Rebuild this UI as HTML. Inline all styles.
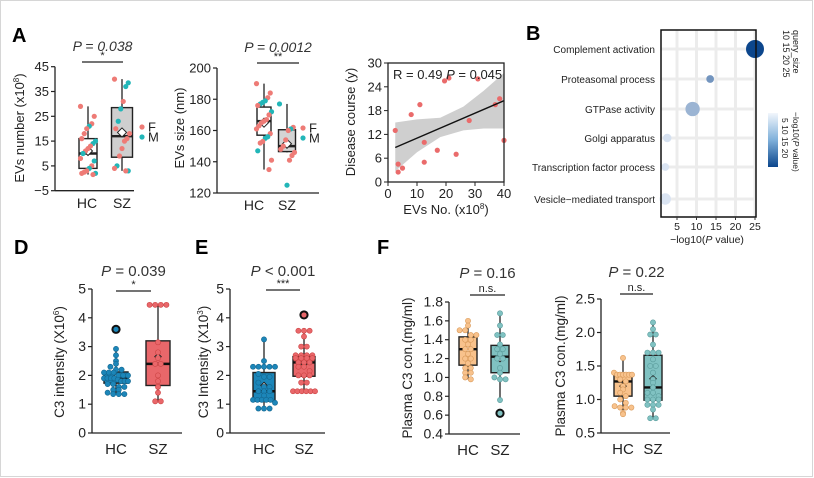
<!DOCTYPE html>
<html><head><meta charset="utf-8">
<style>
html,body{margin:0;padding:0;background:#fff;}
svg{display:block;font-family:"Liberation Sans",Arial,sans-serif;}
</style></head>
<body>
<svg id="fig" width="814" height="478" viewBox="0 0 814 478" xmlns="http://www.w3.org/2000/svg">
<rect x="0.5" y="0.5" width="812" height="476" fill="#fff" stroke="#d6d6d6"/>
<text x="12" y="42" font-size="20" font-weight="bold">A</text>
<text x="526" y="40" font-size="20" font-weight="bold">B</text>
<text x="14" y="254" font-size="20" font-weight="bold">D</text>
<text x="195" y="254" font-size="20" font-weight="bold">E</text>
<text x="377" y="254" font-size="20" font-weight="bold">F</text>
</svg>
<script>
// ===== Data =====
const a1HC=[29,25,22,21,20,18,16,15,14,13,12,11,10,8,7,5,4,3,2.5,2,2,1.5];
const a1HCsex=['F','F','F','M','F','F','F','M','M','F','F','F','M','F','M','F','M','F','F','F','M','F'];
const a1SZ=[40,38.5,37,31,28,23,20,18,16,15,12,9,5,4,3,3];
const a1SZsex=['F','M','M','F','M','M','F','F','F','F','F','F','M','F','M','F'];
const a1Stats={HC:[1.5,4,10,16,29,11],SZ:[3,8.5,17,28.5,40,18.5]};
const a1Ticks=[45,35,25,15,5,-5];
const a2HC=[190,184,181,179,178,177,176,172,170,167,166,165,163,161,158,156,155,153,152,147,141,135];
const a2HCsex=['F','F','F','M','M','M','F','M','F','F','F','F','F','F','F','M','M','F','F','M','F','F'];
const a2SZ=[177,162,161,160,154,150,148,146,144,141,125];
const a2SZsex=['M','F','M','F','F','F','F','F','F','F','M'];
const a2Stats={HC:[135,157,166,175,190,165],SZ:[146,146.5,150,160.5,177,151.5]};
const a2Ticks=[200,180,160,140,120];
const scX=[2.5,3.5,3.5,5,8,11,12.5,12.5,17,19.5,21,23.5,28,31,37,38.5,40];
const scY=[13,2.5,4.5,3.5,17,19.5,10,5,8,25.5,26.2,7,15.5,26,19.5,21,10.5];
const fitLine=[[2.5,8.7],[40,20.5]];
const ciUpper=[[2.5,15],[10,15.8],[18,16.2],[26,19],[33,23],[40,27.5]];
const ciLower=[[2.5,2.7],[10,7.5],[18,11.3],[26,13],[33,13.5],[40,13.5]];
const scYTicks=[0,6,12,18,24,30];
const scXTicks=[0,10,20,30,40];
const bTerms=['Complement activation','Proteasomal process','GTPase activity','Golgi apparatus','Transcription factor process','Vesicle−mediated transport'];
const bLogP=[25,13.5,9,2.5,2,2];
const bSize=[25,11,20,12,11,16];
const bXTicks=[5,10,15,20,25];
const dHC=[2.92,2.7,2.5,2.4,2.3,2.2,2.2,2.1,2.1,2.1,2.0,2.0,2.0,1.9,1.9,1.9,1.9,1.85,1.8,1.8,1.8,1.7,1.7,1.6,1.6,1.5,1.5,1.4,1.35,1.35,1.35];
const dSZ=[4.45,4.45,4.45,4.45,3.15,2.8,2.6,2.4,2.4,2.0,1.8,1.6,1.4,1.1,1.1];
const dOut={HC:[3.6],SZ:[]};
const dStats={HC:[1.35,1.73,1.88,2.12,2.92,1.95],SZ:[1.1,1.65,2.4,3.2,4.45,2.65]};
const eHC=[3.25,2.5,2.3,2.3,2.3,2.3,2.3,2.05,1.95,1.95,1.75,1.6,1.6,1.45,1.45,1.45,1.3,1.15,1.15,1.15,1.15,1.15,1.05,0.85,0.85,0.85];
const eSZ=[3.55,3.55,3.55,3.35,3.0,3.0,2.7,2.7,2.7,2.7,2.6,2.6,2.6,2.6,2.45,2.45,2.45,2.3,2.3,2.15,2.0,2.0,2.0,1.75,1.75,1.45,1.45,1.45,1.45,1.45,1.45];
const eOut={HC:[],SZ:[4.1]};
const eStats={HC:[0.85,1.1,1.45,2.1,3.25,1.65],SZ:[1.45,1.97,2.45,2.65,3.55,2.4]};
const deTicks=[0,1,2,3,4,5];
const f1HC=[1.6,1.55,1.5,1.5,1.45,1.45,1.4,1.4,1.35,1.3,1.3,1.25,1.2,1.2,1.15,1.1,1.1,1.05,1.05,1.0,0.98];
const f1SZ=[1.68,1.55,1.45,1.45,1.35,1.3,1.3,1.25,1.2,1.2,1.1,1.05,1.0,0.98,0.98,0.76];
const f1Out={HC:[],SZ:[0.62]};
const f1Stats={HC:[0.98,1.13,1.3,1.43,1.6,1.3],SZ:[0.76,1.05,1.22,1.34,1.68,1.2]};
const f1Ticks=[0.4,0.6,0.8,1.0,1.2,1.4,1.6,1.8];
const f2HC=[1.62,1.4,1.37,1.37,1.37,1.37,1.37,1.37,1.3,1.27,1.2,1.15,1.1,1.05,1.0,0.95,0.9,0.88,0.88,0.88,0.8,0.78];
const f2SZ=[2.15,2.05,1.97,1.97,1.82,1.7,1.7,1.7,1.6,1.5,1.5,1.4,1.3,1.25,1.18,1.1,1.1,1.05,1.0,1.0,1.0,0.92,0.92,0.92,0.85,0.72,0.72];
const f2Out={HC:[],SZ:[]};
const f2Stats={HC:[0.78,1.05,1.27,1.37,1.62,1.2],SZ:[0.71,0.99,1.18,1.66,2.15,1.31]};
const f2Ticks=[0.5,1.0,1.5,2.0,2.5];

// ===== helpers =====
const NS='http://www.w3.org/2000/svg';
const svg=document.getElementById('fig');
function el(tag,attrs,parent,txt){const e=document.createElementNS(NS,tag);for(const k in attrs)e.setAttribute(k,attrs[k]);if(txt!==undefined)e.textContent=txt;(parent||svg).appendChild(e);return e;}
function grp(name){const g=el('g',{});


return g;}
function linScale(d0,d1,r0,r1){return v=>r0+(v-d0)*(r1-r0)/(d1-d0);}
function yAxis(g,x,y,ticks,fmt,x1,yTop,yBot,fs){
  el('line',{x1:x,y1:yTop,x2:x,y2:yBot,stroke:'#222','stroke-width':1.3},g);
  ticks.forEach(t=>{const yy=y(t);el('line',{x1:x-4,y1:yy,x2:x,y2:yy,stroke:'#222','stroke-width':1.2},g);
    const tx=el('text',{x:x-6,y:yy+4.5,'font-size':fs||13,'text-anchor':'end',fill:'#222'},g,fmt(t));
    
    });
  el('line',{x1:x,y1:yBot,x2:x1,y2:yBot,stroke:'#222','stroke-width':1.3},g);
}
function ylabel(g,x,y,txt,fs){const t=el('text',{x:0,y:0,'font-size':fs||13,'text-anchor':'middle',fill:'#222',transform:`translate(${x},${y}) rotate(-90)`},g);t.innerHTML=txt;

return t;}
function xcat(g,x,y,txt,fs){const t=el('text',{x:x,y:y,'font-size':fs||14,'text-anchor':'middle',fill:'#222'},g,txt);

}
function boxplot(g,cx,w,y,s,fill,stroke,name){
  const b=grp(name);g.appendChild(b);
  el('line',{x1:cx,y1:y(s[0]),x2:cx,y2:y(s[1]),stroke:stroke,'stroke-width':1.3},b);
  el('line',{x1:cx,y1:y(s[3]),x2:cx,y2:y(s[4]),stroke:stroke,'stroke-width':1.3},b);
  el('rect',{x:cx-w/2,y:y(s[3]),width:w,height:y(s[1])-y(s[3]),fill:fill,stroke:stroke,'stroke-width':1.4},b);
  return b;
}
function medianLine(b,cx,w,y,s,stroke){el('line',{x1:cx-w/2,y1:y(s[2]),x2:cx+w/2,y2:y(s[2]),stroke:stroke,'stroke-width':2.4},b);}
function meanDiamond(b,cx,y,s,r){const yy=y(s[5]);el('polygon',{points:`${cx},${yy-r} ${cx+r},${yy} ${cx},${yy+r} ${cx-r},${yy}`,fill:'#fff',stroke:'#222','stroke-width':1},b);}
function swarm(g,cx,vals,y,r,fill,stroke,name,maxW){
  const bins={};vals.forEach(v=>{const k=Math.round(y(v)/(r*2));(bins[k]=bins[k]||[]).push(v);});
  Object.keys(bins).forEach(k=>{const arr=bins[k];const n=arr.length;
    const sp=n>1?Math.min(r*2+0.4,maxW/(n-1)):0;
    arr.forEach((v,i)=>{
    const c=el('circle',{cx:cx+(i-(n-1)/2)*sp,cy:y(v),r:r,fill:fill,stroke:stroke,'stroke-width':0.6},g);
    
    });});
}
function outliers(g,cx,vals,y,fill,name){vals.forEach(v=>{const c=el('circle',{cx:cx,cy:y(v),r:3.6,fill:fill,stroke:'#111','stroke-width':2},g);

});}
function sig(g,x1,x2,yb,txt,ptxt,py,fs){
  el('line',{x1:x1,y1:yb,x2:x2,y2:yb,stroke:'#222','stroke-width':1.2},g);
  const s=el('text',{x:(x1+x2)/2,y:yb-3,'font-size':11,'text-anchor':'middle',fill:'#222'},g,txt);
  
  
  const p=el('text',{x:(x1+x2)/2,y:py,'font-size':fs||14,'text-anchor':'middle',fill:'#333'},g);p.innerHTML=ptxt;
  
  
}
const SEX={F:'#ee7b76',M:'#22b6b8'};
function jitterDots(g,cx,vals,sex,y,name){vals.forEach((v,i)=>{const off=(((i*37)%13)-6)*1.25;
  const c=el('circle',{cx:cx+off,cy:y(v),r:2.6,fill:SEX[sex[i]]},g);
  
  });}
function legendFM(g,x,y){[['F',0],['M',10]].forEach(([k,d])=>{el('circle',{cx:x,cy:y+d,r:2.6,fill:SEX[k]},g);
  const t=el('text',{x:x+6,y:y+d+4.5,'font-size':13,fill:'#222'},g,k);
  
  });}

// ===== Panel A1 =====
(function(){const g=grp('panel-a-evs-number');svg.appendChild(g);
 const y=linScale(-5,45,190.7,66.7);
 yAxis(g,55,y,a1Ticks,t=>t<0?'−'+(-t):t,134,y(45),190.7,13);
 ylabel(g,24,128,'EVs number (x10<tspan font-size="8" dy="-5">8</tspan><tspan dy="5">)</tspan>',13);
 xcat(g,87,208,'HC');xcat(g,122,208,'SZ');
 const bh=boxplot(g,88,18,y,a1Stats.HC,'#fff','#222','box-hc');medianLine(bh,88,18,y,a1Stats.HC,'#222');
 const bs=boxplot(g,122,21,y,a1Stats.SZ,'#cfcfcf','#222','box-sz');medianLine(bs,122,21,y,a1Stats.SZ,'#222');
 jitterDots(g,88,a1HC,a1HCsex,y,'dot-hc');jitterDots(g,122,a1SZ,a1SZsex,y,'dot-sz');
 meanDiamond(bh,88,y,a1Stats.HC,4.5);meanDiamond(bs,122,y,a1Stats.SZ,4.5);
 sig(g,82,123,62,'*','<tspan font-style="italic">P = 0.038</tspan>',51,14);
 legendFM(g,142,127);
})();
// ===== Panel A2 =====
(function(){const g=grp('panel-a-evs-size');svg.appendChild(g);
 const y=linScale(120,200,193,68);
 yAxis(g,217,y,a2Ticks,t=>t,319,68,193,13);
 ylabel(g,184,128,'EVs size (nm)',13);
 xcat(g,254,210,'HC');xcat(g,287,210,'SZ');
 const bh=boxplot(g,264,14,y,a2Stats.HC,'#fff','#222','box-hc');medianLine(bh,264,14,y,a2Stats.HC,'#222');
 const bs=boxplot(g,287,17,y,a2Stats.SZ,'#d4d4d4','#222','box-sz');medianLine(bs,287,17,y,a2Stats.SZ,'#222');
 jitterDots(g,264,a2HC,a2HCsex,y,'dot-hc');jitterDots(g,287,a2SZ,a2SZsex,y,'dot-sz');
 meanDiamond(bh,264,y,a2Stats.HC,4.5);meanDiamond(bs,287,y,a2Stats.SZ,4.5);
 sig(g,257,299,63,'**','<tspan font-style="italic">P = 0.0012</tspan>',52,14);
 legendFM(g,303,128);
})();
// ===== Panel A3 scatter =====
(function(){const g=grp('panel-a-scatter');svg.appendChild(g);
 const x=linScale(0,40,388,504),y=linScale(0,30,182,63);
 const pts=ciUpper.map(p=>x(p[0])+','+y(p[1])).concat(ciLower.slice().reverse().map(p=>x(p[0])+','+y(p[1])));
 const band=el('polygon',{points:pts.join(' '),fill:'#cfcfcf'},g);
 
 
 scX.forEach((v,i)=>{const c=el('circle',{cx:x(v),cy:y(scY[i]),r:2.6,fill:'#ea6b6b'},g);
  
  });
 const fl=el('line',{x1:x(fitLine[0][0]),y1:y(fitLine[0][1]),x2:x(fitLine[1][0]),y2:y(fitLine[1][1]),stroke:'#111','stroke-width':1.4},g);
 
 
 el('rect',{x:388,y:63,width:116,height:119,fill:'none',stroke:'#222','stroke-width':1.3},g);
 scYTicks.forEach(t=>{el('line',{x1:384,y1:y(t),x2:388,y2:y(t),stroke:'#222'},g);const tx=el('text',{x:382,y:y(t)+4.5,'font-size':13,'text-anchor':'end',fill:'#222'},g,t);
  
  });
 scXTicks.forEach(t=>{el('line',{x1:x(t),y1:182,x2:x(t),y2:186,stroke:'#222'},g);const tx=el('text',{x:x(t),y:198,'font-size':13,'text-anchor':'middle',fill:'#222'},g,t);
  
  });
 const r=el('text',{x:393,y:79,'font-size':13,fill:'#222'},g);r.innerHTML='R = 0.49 <tspan font-style="italic">P</tspan> = 0.045';
 
 
 ylabel(g,355,122,'Disease course (y)',13);
 const xt=el('text',{x:446,y:214,'font-size':13,'text-anchor':'middle',fill:'#222'},g);xt.innerHTML='EVs No. (x10<tspan font-size="8" dy="-5">8</tspan><tspan dy="5">)</tspan>';
 
 
})();
// ===== Panel B =====
(function(){const g=grp('panel-b-enrichment');svg.appendChild(g);
 const x=linScale(0,25,657.5,755);const rowY=[49,79,109,138,167,199];
 const szR=linScale(10,25,3.5,9);const col=linScale(0,25,0,1);
 function color(v){const t=col(v);const c0=[236,242,251],c1=[12,70,140];return `rgb(${c0.map((c,i)=>Math.round(c+(c1[i]-c)*t)).join(',')})`;}
 el('rect',{x:661,y:30,width:95,height:187,fill:'#fff'},g);
 bXTicks.forEach(t=>el('line',{x1:x(t),y1:30,x2:x(t),y2:217,stroke:'#ececec','stroke-width':3},g));
 rowY.forEach(yy=>el('line',{x1:661,y1:yy,x2:756,y2:yy,stroke:'#ececec','stroke-width':3},g));
 bTerms.forEach((t,i)=>{const tx=el('text',{x:655,y:rowY[i]+4,'font-size':10,'text-anchor':'end',fill:'#222'},g,t);
  
  
  const c=el('circle',{cx:x(bLogP[i]),cy:rowY[i],r:szR(bSize[i]),fill:color(bLogP[i])},g);
  
  });
 el('rect',{x:661,y:30,width:95,height:187,fill:'none',stroke:'#111','stroke-width':1.5},g);
 bXTicks.forEach(t=>{el('line',{x1:x(t),y1:217,x2:x(t),y2:220,stroke:'#333'},g);const tx=el('text',{x:x(t),y:230,'font-size':10.5,'text-anchor':'middle',fill:'#222'},g,t);
  
  });
 const xt=el('text',{x:707,y:243,'font-size':10.5,'text-anchor':'middle',fill:'#222'},g);xt.innerHTML='−log10(<tspan font-style="italic">P</tspan> value)';
 
 
 const lg=grp('size-legend');g.appendChild(lg);
 el('text',{x:0,y:0,'font-size':9,fill:'#222',transform:'translate(793,30) rotate(90)'},lg,'query_size');
 el('text',{x:0,y:0,'font-size':9,fill:'#222',transform:'translate(783,30) rotate(90)'},lg,'10 15 20 25');
 const defs=el('defs',{},g);const lgd=el('linearGradient',{id:'cb',x1:0,y1:0,x2:0,y2:1},defs);
 el('stop',{offset:'0','stop-color':'#f2f6fc'},lgd);el('stop',{offset:'0.5','stop-color':'#7fb0da'},lgd);el('stop',{offset:'1','stop-color':'#0c468c'},lgd);
 const cb=el('rect',{x:768,y:113,width:10,height:54,fill:'url(#cb)'},g);
 
 
 el('text',{x:0,y:0,'font-size':8.5,fill:'#222',transform:'translate(782,118) rotate(90)'},g,'5  10  15  20');
 const ct=el('text',{x:0,y:0,'font-size':8.5,fill:'#222',transform:'translate(793,112) rotate(90)'},g);ct.innerHTML='−log10(<tspan font-style="italic">P</tspan> value)';
 
 
})();
// ===== Panels D, E, F =====
function swarmPanel(name,opts){const g=grp(name);svg.appendChild(g);
 const y=opts.y;
 yAxis(g,opts.ax,y,opts.ticks,opts.fmt,opts.axEnd,opts.yTop,opts.yBot,14);
 ylabel(g,opts.ylx,opts.yly,opts.ylabel,13.5);
 xcat(g,opts.cx[0],opts.yBot+21,'HC',15);xcat(g,opts.cx[1],opts.yBot+21,'SZ',15);
 const bh=boxplot(g,opts.cx[0],opts.bw,y,opts.stats.HC,opts.fill[0],'#222','box-hc');
 const bs=boxplot(g,opts.cx[1],opts.bw,y,opts.stats.SZ,opts.fill[1],'#222','box-sz');
 swarm(g,opts.cx[0],opts.hc,y,2.6,opts.dot[0],opts.dotStroke[0],'dot-hc',opts.bw);
 swarm(g,opts.cx[1],opts.sz,y,2.6,opts.dot[1],opts.dotStroke[1],'dot-sz',opts.bw);
 outliers(g,opts.cx[0],opts.out.HC,y,opts.dot[0],'outlier-hc');outliers(g,opts.cx[1],opts.out.SZ,y,opts.dot[1],'outlier-sz');
 medianLine(bh,opts.cx[0],opts.bw,y,opts.stats.HC,'#111');medianLine(bs,opts.cx[1],opts.bw,y,opts.stats.SZ,'#111');
 meanDiamond(bh,opts.cx[0],y,opts.stats.HC,3.2);meanDiamond(bs,opts.cx[1],y,opts.stats.SZ,3.2);
 sig(g,opts.sig[0],opts.sig[1],opts.sig[2],opts.sigTxt,opts.ptxt,opts.sig[3],15);
}
const blue='#1c86b9',red='#e9676a',orange='#f8c28c',teal='#80c2c2';
swarmPanel('panel-d-c3-intensity',{y:linScale(0,5,433,289),ax:92,axEnd:182,yTop:289,yBot:433,ticks:deTicks,fmt:t=>t,
 ylx:64,yly:362,ylabel:'C3 intensity (X10<tspan font-size="8" dy="-5">6</tspan><tspan dy="5">)</tspan>',
 cx:[116,158],bw:24,stats:dStats,hc:dHC,sz:dSZ,out:dOut,fill:[blue,red],dot:[blue,red],dotStroke:['#14668f','#c44'],
 sig:[116,151,291,276],sigTxt:'*',ptxt:'<tspan font-style="italic">P</tspan>  = 0.039'});
swarmPanel('panel-e-c3-intensity',{y:linScale(0,5,433,289),ax:230,axEnd:325,yTop:289,yBot:433,ticks:deTicks,fmt:t=>t,
 ylx:208,yly:362,ylabel:'C3 Intensity (X10<tspan font-size="8" dy="-5">3</tspan><tspan dy="5">)</tspan>',
 cx:[264,304],bw:22,stats:eStats,hc:eHC,sz:eSZ,out:eOut,fill:[blue,red],dot:[blue,red],dotStroke:['#14668f','#c44'],
 sig:[266,300,290,276],sigTxt:'***',ptxt:'<tspan font-style="italic">P</tspan> &lt; 0.001'});
swarmPanel('panel-f-plasma-c3-1',{y:linScale(0.4,1.8,434,302),ax:449,axEnd:520,yTop:302,yBot:434,ticks:f1Ticks,fmt:t=>t.toFixed(1),
 ylx:412,yly:368,ylabel:'Plasma C3 con.(mg/ml)',
 cx:[468,500],bw:18,stats:f1Stats,hc:f1HC,sz:f1SZ,out:f1Out,fill:[orange,teal],dot:[orange,teal],dotStroke:['#d89a5a','#5a9c9c'],
 sig:[470,505,295,278],sigTxt:'n.s.',ptxt:'<tspan font-style="italic">P</tspan> = 0.16'});
swarmPanel('panel-f-plasma-c3-2',{y:linScale(0.5,2.5,433,299),ax:601,axEnd:670,yTop:299,yBot:433,ticks:f2Ticks,fmt:t=>t.toFixed(1),
 ylx:565,yly:366,ylabel:'Plasma C3 con.(mg/ml)',
 cx:[623,653],bw:18,stats:f2Stats,hc:f2HC,sz:f2SZ,out:f2Out,fill:[orange,teal],dot:[orange,teal],dotStroke:['#d89a5a','#5a9c9c'],
 sig:[620,653,294,277],sigTxt:'n.s.',ptxt:'<tspan font-style="italic">P</tspan> = 0.22'});
</script>
</body></html>
